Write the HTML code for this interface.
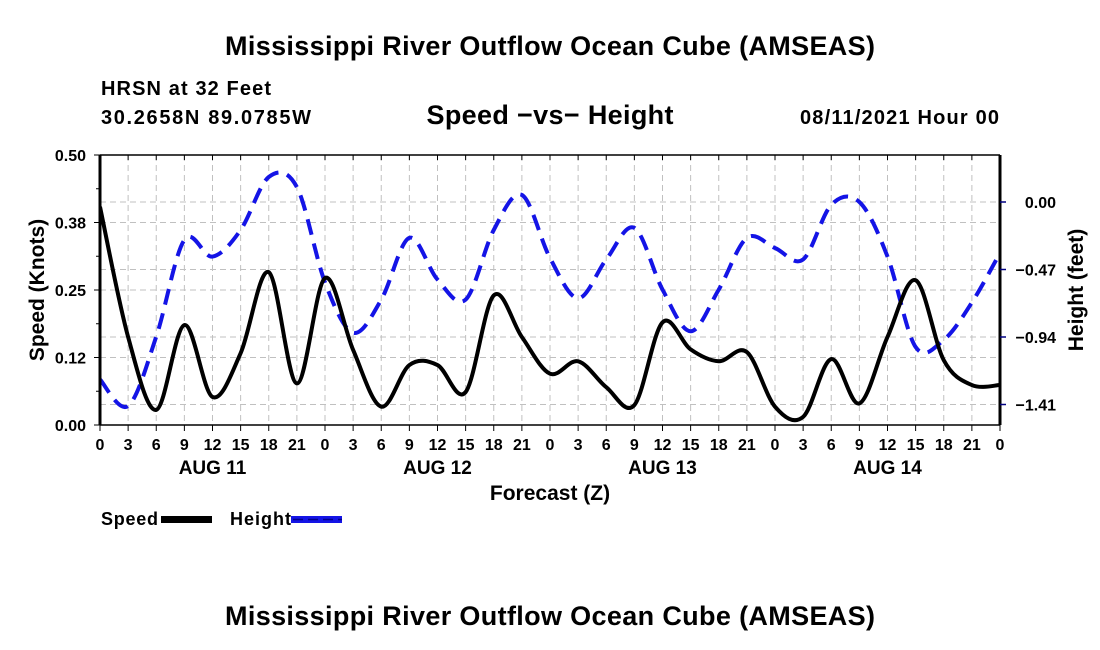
<!DOCTYPE html>
<html><head><meta charset="utf-8"><style>
body{margin:0;background:#fff;}
svg{display:block;font-family:"Liberation Sans",sans-serif;font-weight:bold;}
</style></head><body>
<svg id="chart" width="1100" height="650" viewBox="0 0 1100 650">
<text x="550" y="55" text-anchor="middle" font-size="27" textLength="650">Mississippi River Outflow Ocean Cube (AMSEAS)</text>
<text x="101" y="95" font-size="20" textLength="170">HRSN at 32 Feet</text>
<text x="101" y="124" font-size="20" textLength="210">30.2658N  89.0785W</text>
<text x="550" y="124" text-anchor="middle" font-size="27" textLength="247">Speed −vs− Height</text>
<text x="999" y="124" text-anchor="end" font-size="20" textLength="199">08/11/2021 Hour 00</text>
<g id="grid"></g>
<g id="series"></g>
<g id="axes"></g>
<text x="550" y="500" text-anchor="middle" font-size="21">Forecast (Z)</text>
<text transform="translate(44,290) rotate(-90)" text-anchor="middle" font-size="21">Speed (Knots)</text>
<text transform="translate(1083,290) rotate(-90)" text-anchor="middle" font-size="21">Height (feet)</text>
<g>
<text x="101" y="525" font-size="18" textLength="57">Speed</text>
<rect x="161" y="516" width="51" height="7" fill="#000"/>
<text x="230" y="525" font-size="18" textLength="61">Height</text>
<rect x="291" y="516" width="51" height="7" fill="#1414e6"/>
<line x1="293" y1="519.5" x2="342" y2="519.5" stroke="#000090" stroke-width="1.5" stroke-dasharray="10,5"/>
</g>
<text x="550" y="625" text-anchor="middle" font-size="27" textLength="650">Mississippi River Outflow Ocean Cube (AMSEAS)</text>
</svg>
<script>
const hours = [0,3,6,9,12,15,18,21,24,27,30,33,36,39,42,45,48,51,54,57,60,63,66,69,72,75,78,81,84,87,90,93,96];
const speedValues = [0.404,0.163,0.028,0.185,0.052,0.133,0.283,0.077,0.272,0.139,0.034,0.111,0.111,0.061,0.24,0.163,0.095,0.118,0.07,0.037,0.19,0.14,0.118,0.135,0.034,0.015,0.122,0.04,0.163,0.268,0.12,0.074,0.074];
const heightValues = [-1.236,-1.42,-0.937,-0.264,-0.38,-0.195,0.174,0.104,-0.56,-0.91,-0.68,-0.25,-0.54,-0.68,-0.195,0.049,-0.39,-0.67,-0.40,-0.18,-0.61,-0.90,-0.61,-0.25,-0.32,-0.40,-0.02,0.0,-0.38,-1.01,-0.96,-0.70,-0.355];
const speedTicks = [0,0.125,0.25,0.375,0.5];
const speedTickLabels = ["0.00","0.12","0.25","0.38","0.50"];
const heightTicks = [0,-0.47,-0.94,-1.41];
const heightTickLabels = ["0.00","−0.47","−0.94","−1.41"];
const hourTickLabels = ["0","3","6","9","12","15","18","21"];
const dayLabels = ["AUG 11","AUG 12","AUG 13","AUG 14"];

const NS="http://www.w3.org/2000/svg";
const X0=100,X1=1000,Y0=155,Y1=425;
const xS=h=>X0+h*(X1-X0)/96;
const yL=v=>Y1-v*(Y1-Y0)/0.5;
const yR=v=>202-v*(67.5/0.47);
function mk(tag,attrs,parent){const e=document.createElementNS(NS,tag);for(const k in attrs)e.setAttribute(k,attrs[k]);parent.appendChild(e);return e;}
const grid=document.getElementById('grid'),axes=document.getElementById('axes'),series=document.getElementById('series');
for(let h=3;h<96;h+=3){const l=mk('line',{x1:xS(h),x2:xS(h),y1:Y0,y2:Y1,stroke:'#c0c0c0','stroke-width':1,'stroke-dasharray':'6,4'},grid);

}
const gy=[...speedTicks.slice(1,4).map(yL),...heightTicks.map(yR)];
gy.forEach(y=>{const l=mk('line',{x1:X0,x2:X1,y1:y,y2:y,stroke:'#c0c0c0','stroke-width':1,'stroke-dasharray':'6,4'},grid);

});
mk('line',{x1:X0,x2:X1,y1:Y0,y2:Y0,stroke:'#000','stroke-width':1.5},axes);
mk('line',{x1:X0,x2:X1,y1:Y1,y2:Y1,stroke:'#000','stroke-width':1.5},axes);
mk('line',{x1:X0,x2:X0,y1:Y0,y2:Y1,stroke:'#000','stroke-width':3},axes);
mk('line',{x1:X1,x2:X1,y1:Y0,y2:Y1,stroke:'#000','stroke-width':3},axes);
for(let i=0;i<=32;i++){const h=i*3,x=xS(h);
mk('line',{x1:x,x2:x,y1:Y1,y2:Y1+6,stroke:'#000','stroke-width':1},axes);
mk('line',{x1:x,x2:x,y1:Y0,y2:Y0+5,stroke:'#000','stroke-width':1},axes);
const t=mk('text',{x:x,y:Y1+25,'text-anchor':'middle','font-size':16},axes);t.textContent=hourTickLabels[i%8];

}
dayLabels.forEach((d,i)=>{const t=mk('text',{x:xS(24*i+12),y:Y1+49,'text-anchor':'middle','font-size':19},axes);t.textContent=d;

});
speedTicks.forEach((v,i)=>{const y=yL(v);mk('line',{x1:X0-6,x2:X0,y1:y,y2:y,stroke:'#000'},axes);
const t=mk('text',{x:86,y:y+6,'text-anchor':'end','font-size':16},axes);t.textContent=speedTickLabels[i];

});
for(let v=0.0625;v<0.5;v+=0.125){const y=yL(v);mk('line',{x1:X0-4,x2:X0,y1:y,y2:y,stroke:'#000'},axes);}
heightTicks.forEach((v,i)=>{const y=yR(v);mk('line',{x1:X1,x2:X1+6,y1:y,y2:y,stroke:'#000080','stroke-width':1.5},axes);
const t=mk('text',{x:1056,y:y+6,'text-anchor':'end','font-size':16},axes);t.textContent=heightTickLabels[i];

});
function path(vals,yf){const p=hours.map((h,i)=>[xS(h),yf(vals[i])]);let d=`M${p[0][0]},${p[0][1]}`;
for(let i=0;i<p.length-1;i++){const a=p[Math.max(0,i-1)],b=p[i],c=p[i+1],e=p[Math.min(p.length-1,i+2)];
d+=` C${b[0]+(c[0]-a[0])/6},${b[1]+(c[1]-a[1])/6} ${c[0]-(e[0]-b[0])/6},${c[1]-(e[1]-b[1])/6} ${c[0]},${c[1]}`;}return d;}
const cp=mk('clipPath',{id:'clip'},series);mk('rect',{x:X0,y:Y0,width:X1-X0,height:Y1-Y0},cp);
const hp=mk('path',{d:path(heightValues,yR),fill:'none',stroke:'#1414e6','stroke-width':4,'stroke-dasharray':'16,9','clip-path':'url(#clip)'},series);


const sp=mk('path',{d:path(speedValues,yL),fill:'none',stroke:'#000','stroke-width':4,'clip-path':'url(#clip)'},series);


</script>
</body></html>
